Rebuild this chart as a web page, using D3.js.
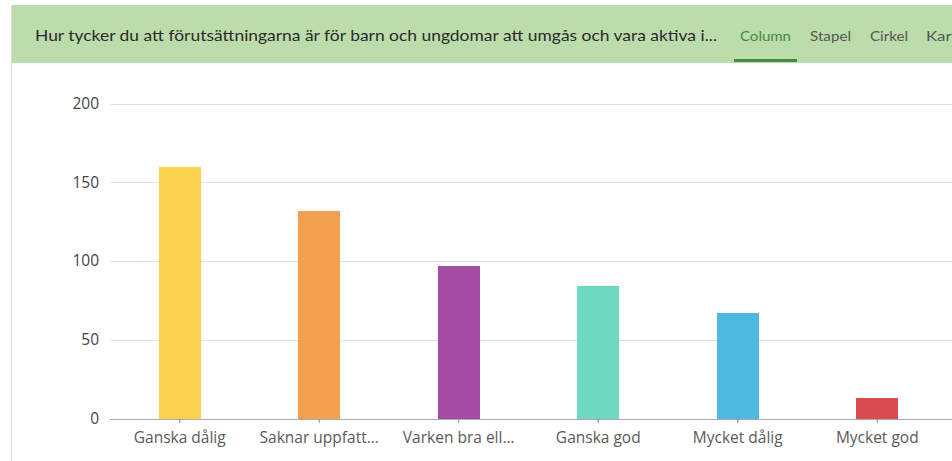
<!DOCTYPE html>
<meta charset="utf-8" />

<head>
  <style>
    body { margin: 0; background: #fff; font-family: Lato, "Open Sans", sans-serif; }
    .bar { shape-rendering: crispEdges; }
  </style>
  <script src="https://d3js.org/d3.v7.min.js"></script>
</head>

<body>
  <svg width="952" height="461"></svg>
  <script>
    // data
    const categories = ["Ganska dålig", "Saknar uppfatt...", "Varken bra ell...", "Ganska god", "Mycket dålig", "Mycket god"];
    const counts = [160, 132, 97, 84, 67, 13];
    const colors = ["#fdd24c", "#f4a14f", "#a54ca5", "#6ed9c1", "#4cb9e1", "#d94c50"];
    const yTicks = [0, 50, 100, 150, 200];
    const tabs = ["Column", "Stapel", "Cirkel", "Karta"];
    const title = "Hur tycker du att förutsättningarna är för barn och ungdomar att umgås och vara aktiva i...";

    const svg = d3.select("svg");

    // card border + header band
    svg.append("line")
      .attr("x1", 11.5).attr("x2", 11.5)
      .attr("y1", 5).attr("y2", 461)
      .attr("stroke", "#dcdcdc");
    svg.append("rect")
      .attr("x", 12).attr("y", 5)
      .attr("width", 940).attr("height", 58)
      .attr("fill", "#bddcab");

    svg.append("text")
      .attr("x", 35).attr("y", 41)
      .attr("font-size", 15)
      .attr("fill", "#2b2b2b")
      .attr("textLength", 682)
      .attr("lengthAdjust", "spacingAndGlyphs")
      .text(title);

    // last tab is clipped by the card edge, same as the original
    const tabX = [740, 810, 870, 926];
    const tabW = [51, 41, 38, 40];
    svg.selectAll(".tab")
      .data(tabs)
      .enter()
      .append("text")
      .attr("class", "tab")
      .attr("x", (d, i) => tabX[i])
      .attr("y", 41)
      .attr("font-size", 14)
      .attr("textLength", (d, i) => tabW[i])
      .attr("lengthAdjust", "spacingAndGlyphs")
      .attr("fill", (d, i) => i === 0 ? "#3d8b3d" : "#555")
      .text(d => d);

    svg.append("rect")
      .attr("x", 734).attr("y", 59)
      .attr("width", 63).attr("height", 3)
      .attr("fill", "#3f8f3f");

    // plot
    const x = d3.scaleBand()
      .domain(categories)
      .range([110, 947])
      .paddingInner(0.7)
      .paddingOuter(0.35);

    const y = d3.scaleLinear()
      .domain([0, 200])
      .range([418.5, 103.5]);

    svg.append("g")
      .selectAll("line")
      .data(yTicks.slice(1))
      .enter()
      .append("line")
      .attr("x1", 110).attr("x2", 952)
      .attr("y1", d => Math.round(y(d)) + 0.5)
      .attr("y2", d => Math.round(y(d)) + 0.5)
      .attr("stroke", "#e0e0e0");

    svg.append("g")
      .selectAll("text")
      .data(yTicks)
      .enter()
      .append("text")
      .attr("x", 99)
      .attr("y", d => y(d))
      .attr("dy", "0.35em")
      .attr("text-anchor", "end")
      .attr("font-size", 15.5)
      .attr("font-family", "'Open Sans', sans-serif")
      .attr("fill", "#444")
      .text(d => d);

    svg.selectAll(".bar")
      .data(counts)
      .enter()
      .append("rect")
      .attr("class", "bar")
      .attr("x", (d, i) => x(categories[i]))
      .attr("y", d => y(d))
      .attr("width", x.bandwidth())
      .attr("height", d => y(0) - y(d))
      .attr("fill", (d, i) => colors[i]);

    const xAxis = svg.append("g")
      .attr("transform", "translate(0," + Math.round(y(0)) + ")")
      .call(d3.axisBottom(x).tickSize(4).tickPadding(9));
    xAxis.select(".domain")
      .attr("d", "M110,0.5H952")
      .attr("stroke", "#aaa");
    xAxis.selectAll(".tick line").attr("stroke", "#888");
    xAxis.selectAll(".tick text")
      .attr("font-size", 15.5)
      .attr("font-family", "'Open Sans', sans-serif")
      .attr("fill", "#5a5a5a");
  </script>
</body>
